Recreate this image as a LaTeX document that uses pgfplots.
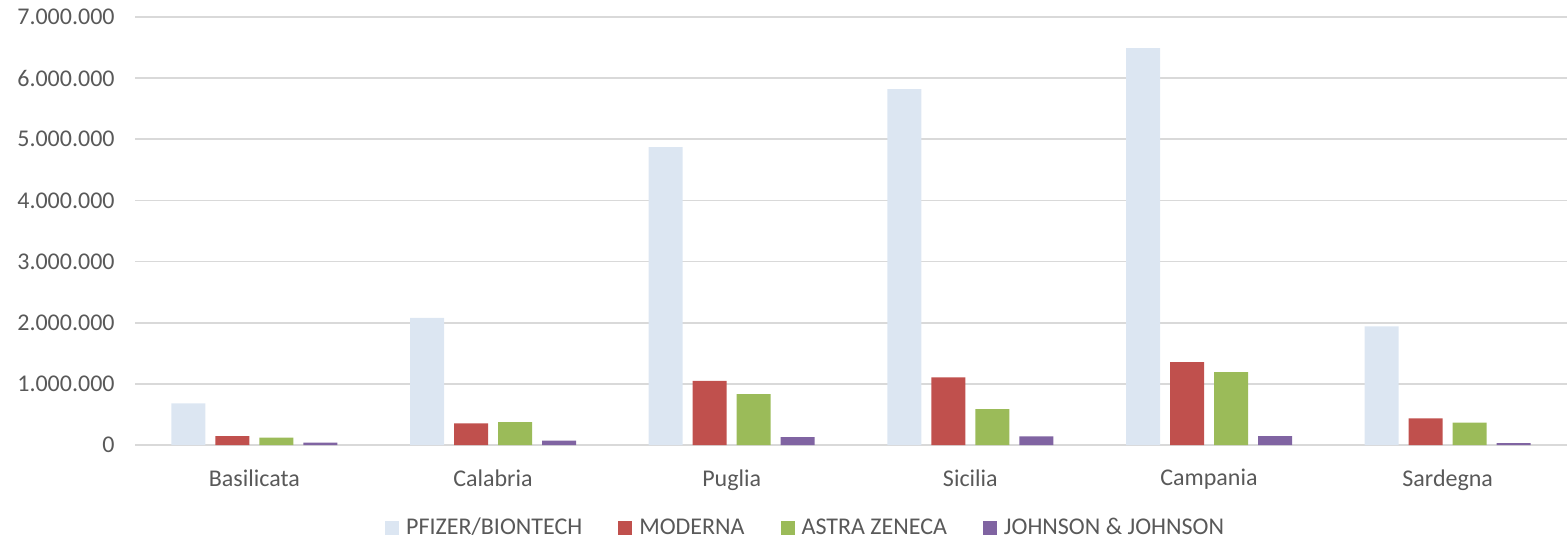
\documentclass[border=0pt]{standalone}
\usepackage{fontspec}
\setmainfont{Carlito}
\usepackage{pgfplots}
\pgfplotsset{compat=1.18}
\definecolor{pf}{HTML}{DCE6F2}
\definecolor{mo}{HTML}{C0504D}
\definecolor{az}{HTML}{9BBB59}
\definecolor{jj}{HTML}{8064A2}
\definecolor{txt}{HTML}{595959}
\definecolor{grd}{HTML}{D9D9D9}
\begin{document}
\fontsize{12pt}{14pt}\selectfont
\begin{tikzpicture}
\path[use as bounding box] (0,0) rectangle (783.5pt,270pt);
\begin{axis}[
  at={(67.5pt,47.5pt)}, anchor=south west,
  scale only axis, width=716pt, height=214pt,
  ybar=5pt, bar width=17pt,
  xmin=-0.5, xmax=5.5, ymin=0, ymax=7000000,
  xtick={0,1,2,3,4,5},
  xticklabels={Basilicata,Calabria,Puglia,Sicilia,Campania,Sardegna},
  ytick={0,1000000,2000000,3000000,4000000,5000000,6000000,7000000},
  scaled y ticks=false,
  /pgf/number format/.cd, fixed, 1000 sep={.}, assume math mode=true,
  /pgfplots/.cd,
  ymajorgrids, grid style={grd, line width=0.9pt},
  axis line style={draw=none},
  axis x line*=bottom,
  major tick length=0pt,
  tick label style={text=txt, font=\fontsize{12pt}{14pt}\selectfont},
  yticklabel style={xshift=-6pt},
  xticklabel style={yshift=-8pt},
  legend style={at={(0.469,-0.195)}, anchor=center, draw=none, legend columns=-1,
    font=\fontsize{12pt}{14pt}\selectfont, text=txt,
    /tikz/every odd column/.append style={column sep=1.5pt},
    /tikz/every even column/.append style={column sep=16pt}},
  legend image code/.code={\fill[#1] (0pt,-3.5pt) rectangle (7pt,3.5pt);},
  clip=false,
]
\draw[grd, line width=0.9pt] (axis cs:-0.5,0) -- (axis cs:5.5,0);
\addplot[fill=pf, draw=none] coordinates {(0,680000) (1,2080000) (2,4870000) (3,5820000) (4,6490000) (5,1940000)};
\addplot[fill=mo, draw=none] coordinates {(0,147000) (1,355000) (2,1050000) (3,1106000) (4,1356000) (5,436000)};
\addplot[fill=az, draw=none] coordinates {(0,120000) (1,376000) (2,833000) (3,588000) (4,1190000) (5,365000)};
\addplot[fill=jj, draw=none] coordinates {(0,40000) (1,70000) (2,130000) (3,140000) (4,147000) (5,30000)};
\legend{PFIZER/BIONTECH, MODERNA, ASTRA ZENECA, JOHNSON \& JOHNSON}
\end{axis}
\end{tikzpicture}
\end{document}
